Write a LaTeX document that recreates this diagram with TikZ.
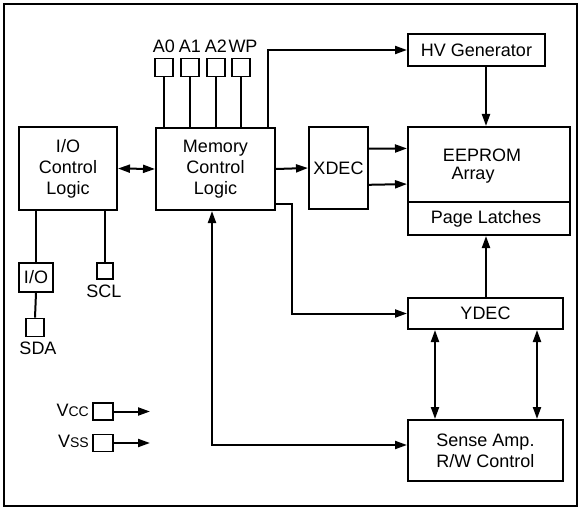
\documentclass[tikz,border=0pt]{standalone}
\usepackage{fontspec}
\setmainfont{Liberation Sans}
\usetikzlibrary{arrows.meta,calc}
\begin{document}
\begin{tikzpicture}[x=1pt,y=-1pt,
  every node/.style={font=\fontsize{18}{21}\selectfont, inner sep=0pt},
  box/.style={draw, line width=2pt, align=center},
  pad/.style={draw, line width=1.8pt, minimum width=18pt, minimum height=18pt},
  wire/.style={line width=2pt},
  arr/.style={wire, -{Triangle[length=12pt,width=8pt]}},
  darr/.style={wire, {Triangle[length=12pt,width=8pt]}-{Triangle[length=12pt,width=8pt]}}]
\useasboundingbox (0,0) rectangle (582,511);
\draw[line width=1.6pt] (4,4) rectangle (577,506);

% main boxes
\node[box, minimum width=98pt, minimum height=83pt] (io) at (68,168.5) {I/O\\Control\\Logic};
\node[box, minimum width=119pt, minimum height=82pt] (mem) at (215.5,169) {Memory\\Control\\Logic};
\node[box, minimum width=59pt, minimum height=82pt] (xdec) at (338.5,168) {XDEC};
\node[box, minimum width=137pt, minimum height=32pt] (hv) at (476.5,50) {HV Generator};
\node[box, minimum width=162pt, minimum height=108pt] (ee) at (489,181) {};
\draw[wire] (ee.west |- 0,202) -- (ee.east |- 0,202);
\node (eet) at (482,155) {EEPROM};
\node (eea) at (473,175.5) {Array};
\node (pl) at (486,219) {Page Latches};
\node[box, minimum width=155pt, minimum height=31pt] (ydec) at (485.5,313.5) {YDEC};
\node[box, minimum width=155pt, minimum height=61pt] (sense) at (485.5,450.5) {Sense Amp.\\R/W Control};

% address pads
\node[pad] (a0) at (164,67.5) {};
\node[pad] (a1) at (190,67.5) {};
\node[pad] (a2) at (216,67.5) {};
\node[pad] (wp) at (241,67.5) {};
\node (la0) at (164,46) {A0};
\node (la1) at (190,46) {A1};
\node (la2) at (216,46) {A2};
\node (lwp) at (243,46) {WP};
\foreach \p in {a0,a1,a2,wp} \draw[wire] (\p.south) -- (\p.south |- mem.north);

% I/O side
\node[box, minimum width=34pt, minimum height=29pt] (iob) at (36,277.5) {I/O};
\node[pad] (sda) at (35,327.5) {};
\node (lsda) at (38,348) {SDA};
\node[pad, minimum width=16pt, minimum height=16pt] (scl) at (105,271) {};
\node (lscl) at (104,291) {SCL};
\draw[wire] (iob.north |- io.south) -- (iob.north);
\draw[wire] (iob.south) -- (sda.north);
\draw[wire] (scl.north |- io.south) -- (scl.north);

% power pads
\node[pad, minimum width=20pt, minimum height=17pt] (vcc) at (103,411.5) {};
\node[pad, minimum width=20pt, minimum height=17pt] (vss) at (103,443) {};
\node[anchor=east] (lvcc) at (89,410) {V{\fontsize{14}{14}\selectfont CC}};
\node[anchor=east] (lvss) at (89,441.5) {V{\fontsize{14}{14}\selectfont SS}};
\coordinate (vcce) at (150,411.5);
\coordinate (vsse) at (150,443);
\draw[arr] (vcc.east) -- (vcce);
\draw[arr] (vss.east) -- (vsse);

% connectors
\draw[darr] (io.east) -- (mem.west);
\draw[arr] (mem.east) -- (xdec.west);
\draw[arr] ($(xdec.north east)!0.27!(xdec.south east)$) -- ($(ee.north west)!0.204!(ee.south west)$);
\draw[arr] ($(xdec.north east)!0.70!(xdec.south east)$) -- ($(ee.north west)!0.528!(ee.south west)$);
\draw[arr] ([xshift=52.5pt]mem.north) |- (hv.west);
\draw[arr] ([xshift=9.5pt]hv.south) -- ([xshift=-3pt]ee.north);
\draw[arr] ([xshift=0.5pt]ydec.north) -- ([xshift=-3pt]ee.south);
\coordinate (bend) at (292,204);
\draw[arr] (mem.east |- bend) -- (bend) |- (ydec.west);
\draw[darr] ([xshift=-50.5pt]ydec.south) -- ([xshift=-50.5pt]sense.north);
\draw[darr] ([xshift=51.5pt]ydec.south) -- ([xshift=51.5pt]sense.north);
\draw[darr] ([yshift=5.5pt]sense.west) -| ([xshift=-3.5pt]mem.south);
\end{tikzpicture}
\end{document}
